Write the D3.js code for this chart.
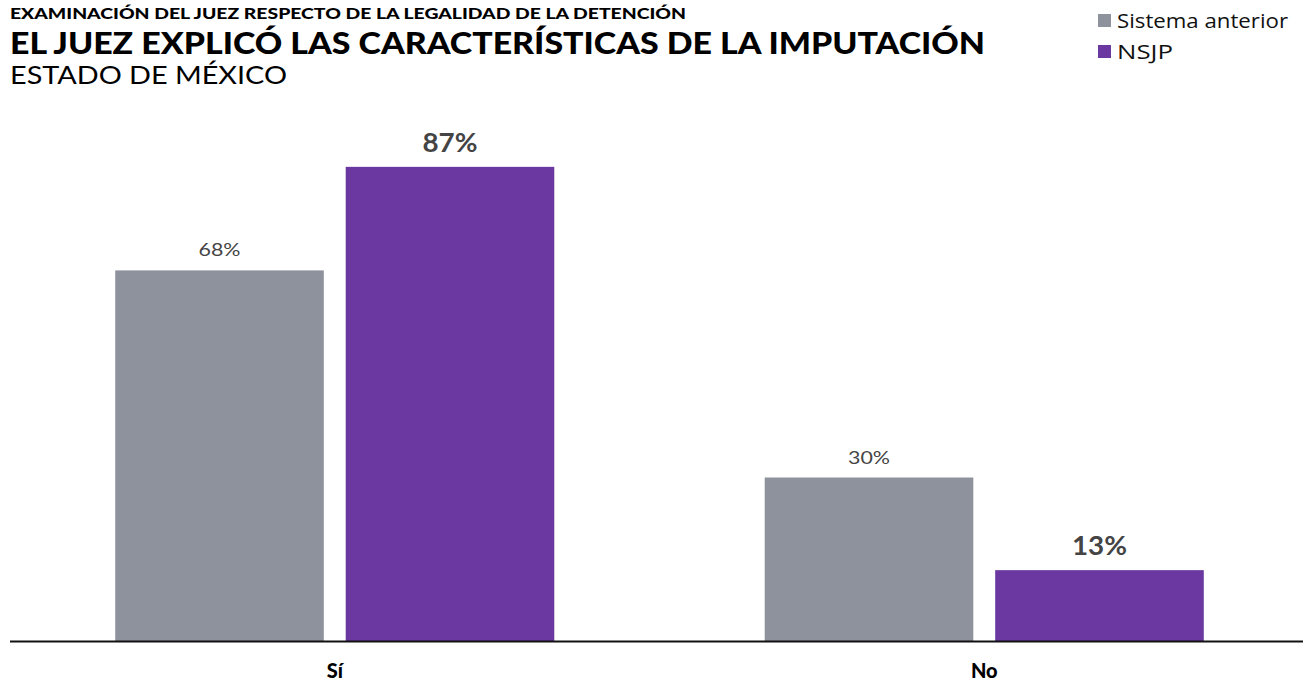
<!DOCTYPE html>
<html><head><meta charset="utf-8">
<script src="https://cdn.jsdelivr.net/npm/d3@7"></script>
<style>body{margin:0;background:#fff;font-family:Lato,sans-serif}</style>
</head><body><svg id="c" width="1303" height="684"></svg>
<script>
const categories = ["Sí", "No"];
const seriesNames = ["Sistema anterior", "NSJP"];
const sistemaAnterior = [68, 30];
const nsjp = [87, 13];
const colors = ["#8e929c", "#6a38a0"];

const svg = d3.select("#c");
const W = 1303, base = 641;
const x = d3.scaleBand().domain(categories).range([10, 1309]).paddingInner(0.324).paddingOuter(0.162);
const xi = d3.scaleBand().domain(seriesNames).range([0, x.bandwidth()]).paddingInner(0.095).paddingOuter(0);
const y = d3.scaleLinear().domain([0, 100]).range([base, base - 545]);

const data = categories.map((c, i) => ({cat: c, vals: [sistemaAnterior[i], nsjp[i]]}));

const g = svg.append("g");
const grp = g.selectAll("g.cat").data(data).join("g").attr("transform", d => `translate(${x(d.cat)},0)`);
grp.selectAll("rect").data(d => d.vals.map((v, j) => ({s: seriesNames[j], v, j})))
  .join("rect")
  .attr("x", d => xi(d.s)).attr("width", xi.bandwidth())
  .attr("y", d => y(d.v)).attr("height", d => base - y(d.v))
  .attr("fill", d => colors[d.j]);
grp.selectAll("text.val").data(d => d.vals.map((v, j) => ({s: seriesNames[j], v, j})))
  .join("text").attr("class", "val")
  .attr("x", d => xi(d.s) + xi.bandwidth() / 2)
  .attr("y", d => y(d.v) - (d.j ? 15 : 14))
  .attr("text-anchor", "middle")
  .attr("fill", "#444")
  .attr("font-size", d => d.j ? 26 : 18)
  .attr("font-weight", d => d.j ? 700 : 400)
  .attr("textLength", d => d.j ? 55 : 42)
  .attr("lengthAdjust", "spacingAndGlyphs")
  .text(d => d.v + "%");

// axis
const ax = svg.append("g").attr("transform", `translate(0,${base})`)
  .call(d3.axisBottom(x).tickSize(0).tickPadding(23));
ax.select(".domain").attr("d", `M10,0.5H${W}`).attr("stroke", "#111").attr("stroke-width", 2);
ax.selectAll("text").attr("font-family", "Lato").attr("font-size", 20).attr("font-weight", 900).attr("fill", "#000");

// titles
function title(txt, yb, size, weight, len) {
  svg.append("text").attr("x", 10).attr("y", yb).attr("font-size", size).attr("font-weight", weight)
    .attr("fill", "#000").attr("textLength", len).attr("lengthAdjust", "spacingAndGlyphs").text(txt);
}
title("EXAMINACIÓN DEL JUEZ RESPECTO DE LA LEGALIDAD DE LA DETENCIÓN", 18.5, 15, 900, 676);
title("EL JUEZ EXPLICÓ LAS CARACTERÍSTICAS DE LA IMPUTACIÓN", 53.5, 30, 900, 975);
title("ESTADO DE MÉXICO", 84, 25, 400, 277);

// legend
const legendLen = [171, 56];
const lg = svg.append("g").selectAll("g").data(seriesNames).join("g")
  .attr("transform", (d, i) => `translate(1098,${14 + i * 31})`);
lg.append("rect").attr("width", 13).attr("height", 13).attr("fill", (d, i) => colors[i]);
lg.append("text").attr("x", 19).attr("y", 13.5).attr("font-family", "'Open Sans'").attr("font-size", 20)
  .attr("fill", "#111").attr("textLength", (d, i) => legendLen[i]).attr("lengthAdjust", "spacingAndGlyphs").text(d => d);
</script></body></html>
